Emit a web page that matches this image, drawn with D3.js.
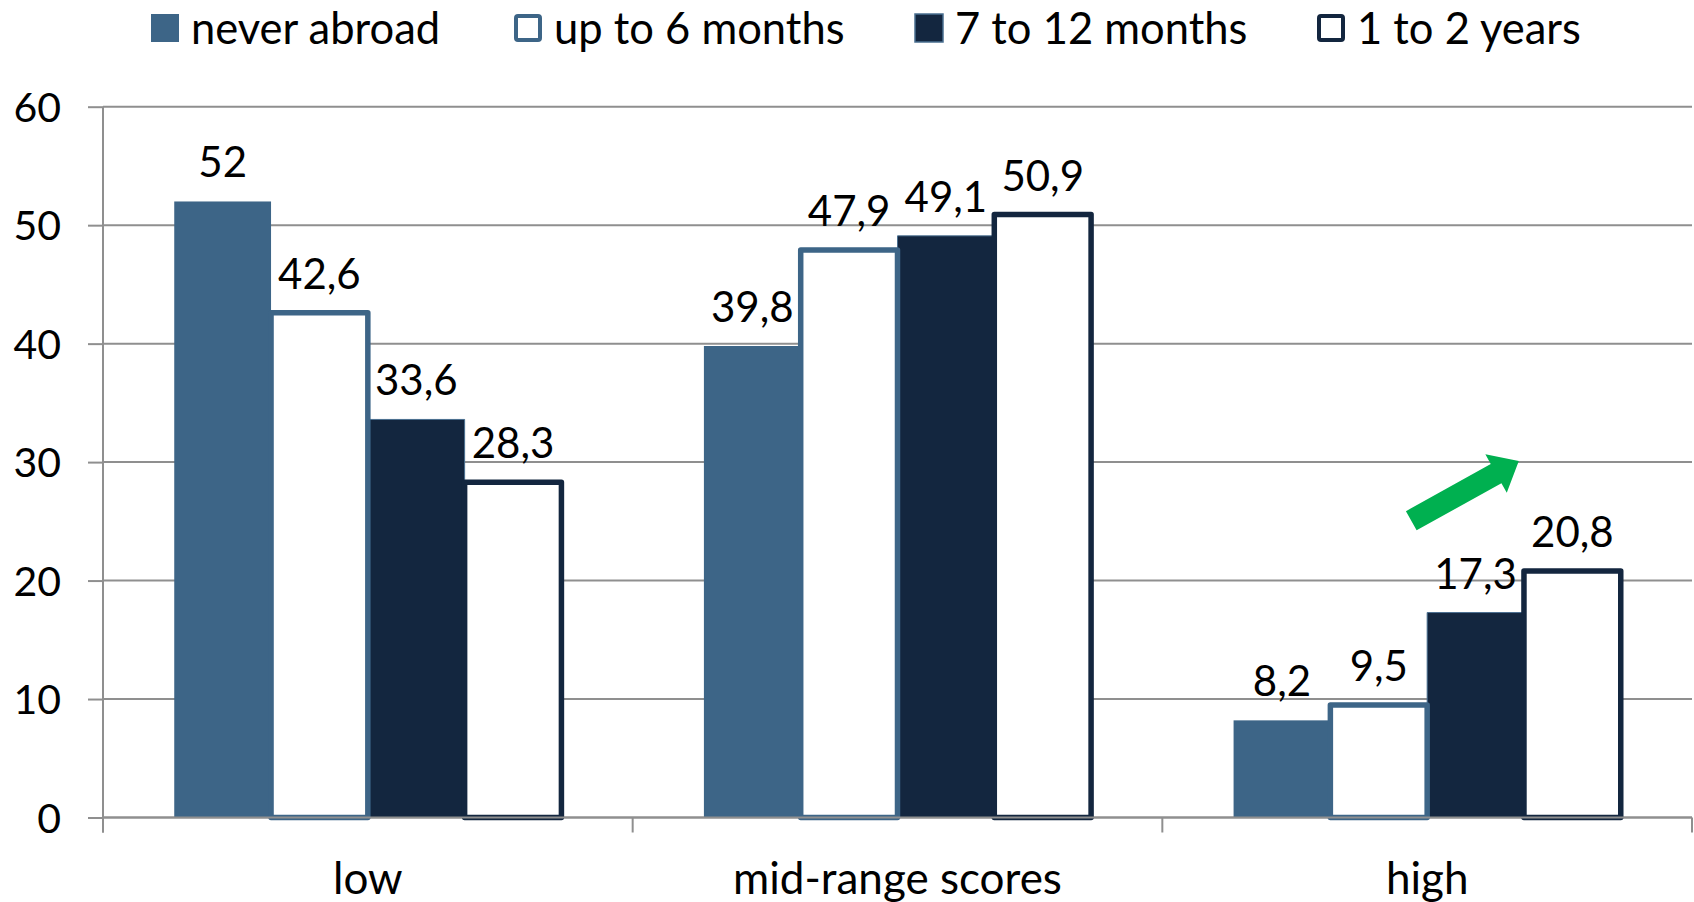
<!DOCTYPE html>
<html>
<head>
<meta charset="utf-8">
<script src="https://cdn.jsdelivr.net/npm/d3@7"></script>
<style>
  html, body { margin: 0; padding: 0; background: #ffffff; }
  svg { display: block; }
  text { font-family: Lato, "Open Sans", sans-serif; fill: #000; }
</style>
</head>
<body>
<svg id="chart" width="1694" height="902"></svg>
<script>
// Score groups on the x axis
const categories = ["low", "mid-range scores", "high"];

// Time spent abroad (one series per bar in each group)
const seriesNames = ["never abroad", "up to 6 months", "7 to 12 months", "1 to 2 years"];
const neverAbroad = [52, 39.8, 8.2];
const upTo6Months = [42.6, 47.9, 9.5];
const months7to12 = [33.6, 49.1, 17.3];
const years1to2 = [28.3, 50.9, 20.8];

const yTicks = [0, 10, 20, 30, 40, 50, 60];

// Trend arrow over the "high" group: [position inside the band (0..1), value]
const arrowTail = [0.47, 25.05];
const arrowTip = [0.673, 30.1];

const seriesValues = [neverAbroad, upTo6Months, months7to12, years1to2];

const steel = "#3d6587";
const navy = "#13263f";
const seriesStyle = [
  { fill: steel, stroke: "none", width: 0 },
  { fill: "#ffffff", stroke: steel, width: 5.5 },
  { fill: navy, stroke: "#4a6f90", width: 1 },
  { fill: "#ffffff", stroke: navy, width: 5.5 }
];

const svg = d3.select("#chart");
const plotLeft = 103, plotRight = 1692, plotTop = 106.7, plotBottom = 817.5;

const x0 = d3.scaleBand().domain(categories).range([plotLeft, plotRight]).paddingInner(0).paddingOuter(0);
const x1 = d3.scaleBand().domain(d3.range(seriesNames.length))
  .range([0, x0.bandwidth()]).paddingInner(0).paddingOuter(0.736);
const y = d3.scaleLinear().domain([0, 60]).range([plotBottom, plotTop]);

const fmt = d3.formatLocale({ decimal: ",", thousands: ".", grouping: [3], currency: ["", ""] }).format(".1~f");

const gridColor = "#8f8f8f";

// Horizontal gridlines
svg.append("g")
  .selectAll("line")
  .data(yTicks)
  .join("line")
  .attr("x1", plotLeft).attr("x2", plotRight)
  .attr("y1", d => y(d)).attr("y2", d => y(d))
  .attr("stroke", gridColor).attr("stroke-width", 2);

// Bars: filled series first, outlined series on top so their borders stay whole
const barData = [];
seriesValues.forEach((vals, s) => {
  vals.forEach((v, c) => barData.push({ s, c, v }));
});
const drawOrder = [0, 2, 1, 3];
const bars = svg.append("g");
drawOrder.forEach(s => {
  const st = seriesStyle[s];
  bars.selectAll(null)
    .data(barData.filter(d => d.s === s))
    .join("rect")
    .attr("x", d => x0(categories[d.c]) + x1(d.s))
    .attr("y", d => y(d.v))
    .attr("width", x1.bandwidth())
    .attr("height", d => y(0) - y(d.v))
    .attr("fill", st.fill)
    .attr("stroke", st.stroke)
    .attr("stroke-width", st.width)
    .attr("stroke-linejoin", "round");
});

// Y axis
const yAxis = d3.axisLeft(y).tickValues(yTicks).tickSize(15).tickSizeOuter(0).tickPadding(0);
const ya = svg.append("g").attr("transform", `translate(${plotLeft},0)`).call(yAxis);
ya.select(".domain").attr("stroke", gridColor).attr("stroke-width", 2)
  .attr("d", `M0,${y(60)}V${plotBottom + 15}`);
ya.selectAll(".tick line").attr("stroke", gridColor).attr("stroke-width", 2);
ya.selectAll(".tick text")
  .attr("x", -42).attr("dy", "0.36em")
  .style("font-family", "Lato, 'Open Sans', sans-serif")
  .style("font-size", "41px").attr("fill", "#000");

// X axis with ticks on the category boundaries
const xa = svg.append("g").attr("transform", `translate(0,${plotBottom})`);
xa.append("line").attr("x1", plotLeft).attr("x2", plotRight).attr("y1", 0).attr("y2", 0)
  .attr("stroke", gridColor).attr("stroke-width", 2);
const boundaries = categories.map(c => x0(c)).concat([x0(categories[categories.length - 1]) + x0.bandwidth()]);
xa.selectAll("line.bt").data(boundaries).join("line").attr("class", "bt")
  .attr("x1", d => d).attr("x2", d => d).attr("y1", 0).attr("y2", 15)
  .attr("stroke", gridColor).attr("stroke-width", 2);
xa.selectAll("text").data(categories).join("text")
  .attr("x", d => x0(d) + x0.bandwidth() / 2)
  .attr("y", 76)
  .attr("text-anchor", "middle")
  .style("font-size", "44px")
  .text(d => d);

// Value labels above each bar
svg.append("g").selectAll("text")
  .data(barData)
  .join("text")
  .attr("x", d => x0(categories[d.c]) + x1(d.s) + x1.bandwidth() / 2)
  .attr("y", d => y(d.v) - 24)
  .attr("text-anchor", "middle")
  .style("font-size", "42px")
  .text(d => fmt(d.v));

// Legend
const legendX = [151, 514, 915, 1317];
const legend = svg.append("g");
seriesNames.forEach((name, i) => {
  const st = seriesStyle[i];
  const outlined = st.fill === "#ffffff";
  const g = legend.append("g").attr("transform", `translate(${legendX[i]},14)`);
  g.append("rect")
    .attr("x", outlined ? 2 : 0).attr("y", outlined ? 2 : 0)
    .attr("width", outlined ? 24 : 28).attr("height", outlined ? 24 : 28)
    .attr("rx", outlined ? 2 : 0)
    .attr("fill", st.fill)
    .attr("stroke", outlined ? st.stroke : (i === 2 ? "#4a6f90" : "none"))
    .attr("stroke-width", outlined ? 4 : 1.5);
  g.append("text").attr("x", 40).attr("y", 29.5).style("font-size", "43.5px").text(name);
});

// Green trend arrow over the "high" group
const hb = categories[2];
const ax = f => x0(hb) + f * x0.bandwidth();
const p0 = [ax(arrowTail[0]), y(arrowTail[1])];
const p1 = [ax(arrowTip[0]), y(arrowTip[1])];
const dx = p1[0] - p0[0], dy = p1[1] - p0[1];
const len = Math.hypot(dx, dy);
const ang = Math.atan2(dy, dx) * 180 / Math.PI;
const shaftW = 22, headW = 44, headL = 26;
svg.append("path")
  .attr("transform", `translate(${p0[0]},${p0[1]}) rotate(${ang})`)
  .attr("d", `M0,${-shaftW / 2}H${len - headL}V${-headW / 2}L${len},0L${len - headL},${headW / 2}V${shaftW / 2}H0Z`)
  .attr("fill", "#00b050");
</script>
</body>
</html>
